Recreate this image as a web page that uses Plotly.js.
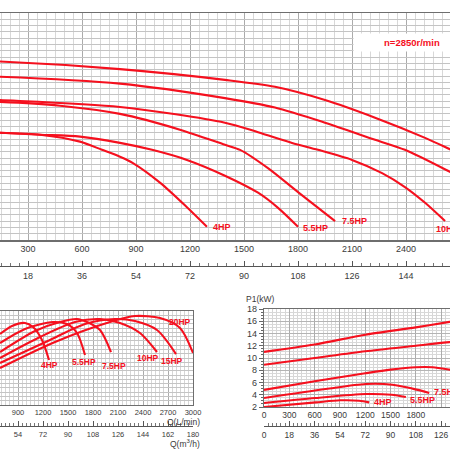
<!DOCTYPE html>
<html><head><meta charset="utf-8">
<script src="https://cdn.plot.ly/plotly-3.0.1.min.js"></script>
<style>html,body{margin:0;padding:0;background:#fff}#chart{width:450px;height:450px}</style>
</head><body><div id="chart"></div>
<script>
// ---------- DATA ----------
const hpNames = ['4HP','5.5HP','7.5HP','10HP','15HP','20HP'];
const speedLabel = 'n=2850r/min';

// Head curves  (Q in L/min, H in m)
const headQ_4HP  = [0,144,367,589,711,811,883,1033,1183,1294];
const headH_4HP  = [17.1,17.0,16.7,15.6,14.3,13.2,12.2,9.1,5.2,2.1];
const headQ_55HP = [0,144,367,589,811,989,1183,1394,1578,1689,1800];
const headH_55HP = [17.1,17.0,16.7,16.4,15.4,14.3,12.7,10.2,7.5,5.1,2.1];
const headQ_75HP = [0,144,478,811,1144,1394,1478,1633,1800,2006];
const headH_75HP = [22.0,21.9,21.3,20.0,17.5,15.1,14.3,11.4,7.6,3.0];
const headQ_10HP = [0,144,811,1394,1578,1767,1911,2100,2267,2394,2506,2617];
const headH_10HP = [22.4,22.2,21.1,18.6,17.1,15.4,14.3,12.7,10.6,8.4,5.9,3.0];
const headQ_15HP = [0,144,811,1394,1672,1950,2228,2394,2644,2750];
const headH_15HP = [26.0,25.9,24.8,22.5,21.0,18.6,15.9,14.3,10.8,9.2];
const headQ_20HP = [0,144,811,1394,1672,1950,2228,2506,2644,2750];
const headH_20HP = [28.4,28.3,27.1,25.4,24.3,22.2,19.4,16.2,14.4,13.0];

// Efficiency curves (Q in L/min, eff in %)
const effQ_4HP  = [684,828,984,1080,1188,1272];
const effE_4HP  = [66.5,74.0,76.8,73.0,60.9,42.1];
const effQ_55HP = [684,984,1320,1488,1608,1704];
const effE_55HP = [58.0,71.2,77.7,75.8,67.4,46.8];
const effQ_75HP = [684,1104,1404,1608,1728,1884,2016];
const effE_75HP = [49.6,69.3,77.7,80.5,77.7,70.2,49.6];
const effQ_10HP = [684,1164,1584,1884,2124,2364,2568];
const effE_10HP = [44.0,63.7,77.7,80.5,76.8,67.4,49.6];
const effQ_15HP = [684,1284,1704,2064,2304,2568,2796];
const effE_15HP = [39.3,60.9,75.8,80.5,78.6,70.2,47.7];
const effQ_20HP = [684,1344,2004,2304,2604,2844,3000];
const effE_20HP = [34.6,59.0,77.7,83.3,81.4,72.1,48.7];

// Power curves (Q in L/min, P1 in kW)
const powQ_4HP  = [0,613,902,1128,1247];
const powP_4HP  = [2.0,2.76,3.09,3.03,2.76];
const powQ_55HP = [0,613,1207,1512,1682];
const powP_55HP = [2.65,3.47,4.12,4.0,3.63];
const powQ_75HP = [0,732,1207,1524,1761,1959];
const powP_75HP = [3.47,4.93,5.75,5.64,5.0,4.3];
const powQ_10HP = [0,600,1200,1500,1800,2000,2200,2400];
const powP_10HP = [4.8,6.2,7.5,8.1,8.5,8.5,8.1,7.6];
const powQ_15HP = [0,600,1200,1800,2200,2400];
const powP_15HP = [8.9,10.0,11.1,12.0,12.6,12.8];
const powQ_20HP = [0,600,1200,1800,2200,2400];
const powP_20HP = [11.0,12.2,13.8,15.0,15.9,16.3];

const LPM_TO_M3H = 0.06;
// ---------- STYLE ----------
const RED = '#f5101e';
const FONT = 'Liberation Sans, Arial, sans-serif';
const TICKC = '#3a3a3a';

function curve(q, v, xa, ya) {
  return {x:q, y:v, xaxis:xa, yaxis:ya, type:'scatter', mode:'lines',
          line:{color:RED, width:2.1, shape:'spline', smoothing:0.8},
          hoverinfo:'skip', showlegend:false};
}
const headSets = [[headQ_4HP,headH_4HP],[headQ_55HP,headH_55HP],[headQ_75HP,headH_75HP],[headQ_10HP,headH_10HP],[headQ_15HP,headH_15HP],[headQ_20HP,headH_20HP]];
const effSets  = [[effQ_4HP,effE_4HP],[effQ_55HP,effE_55HP],[effQ_75HP,effE_75HP],[effQ_10HP,effE_10HP],[effQ_15HP,effE_15HP],[effQ_20HP,effE_20HP]];
const powSets  = [[powQ_4HP,powP_4HP],[powQ_55HP,powP_55HP],[powQ_75HP,powP_75HP],[powQ_10HP,powP_10HP],[powQ_15HP,powP_15HP],[powQ_20HP,powP_20HP]];

const traces = [];
headSets.forEach(s => traces.push(curve(s[0], s[1], 'x', 'y')));
effSets.forEach(s => traces.push(curve(s[0], s[1], 'x3', 'y3')));
powSets.forEach(s => traces.push(curve(s[0], s[1], 'x5', 'y5')));
// empty traces so the m3/h axes are bound to their subplots
traces.push({x:[], y:[], xaxis:'x2', yaxis:'y', type:'scatter', showlegend:false});
traces.push({x:[], y:[], xaxis:'x4', yaxis:'y3', type:'scatter', showlegend:false});
traces.push({x:[], y:[], xaxis:'x6', yaxis:'y5', type:'scatter', showlegend:false});

const topQRange = [144.4, 2644.4];
const blQRange = [684, 3000];
const brQRange = [0, 2205];

const tf = (s) => ({family:FONT, size:s, color:TICKC});
const lab = (s) => ({family:FONT, size:s, color:RED, weight:'bold'});

function m3Axis(overlay, pos, qr, fontSize) {
  return {overlaying:overlay, anchor:'free', position:pos, side:'bottom',
    range:[qr[0]*LPM_TO_M3H, qr[1]*LPM_TO_M3H], tick0:0, dtick:18,
    ticks:'inside', ticklen:5, tickcolor:'#555', showline:true, linecolor:'#555', linewidth:1,
    showgrid:false, zeroline:false, tickfont:tf(fontSize), ticklabelstandoff:1,
    minor:{dtick:3, ticks:'inside', ticklen:3, tickcolor:'#777', showgrid:false}};
}

const layout = {
  width:450, height:450, margin:{l:0,r:0,t:0,b:0},
  paper_bgcolor:'#fff', plot_bgcolor:'#fff', showlegend:false,
  font:{family:FONT},
  xaxis:{domain:[0,1], anchor:'y', range:topQRange, tick0:0, dtick:300,
    showgrid:true, gridcolor:'#ababab', gridwidth:1,
    minor:{dtick:50, showgrid:true, gridcolor:'#d8d8d8', gridwidth:1},
    showline:true, linecolor:'#6e6e6e', linewidth:1.5, mirror:true, ticks:'',
    tickfont:tf(9), zeroline:false},
  yaxis:{domain:[1-240/450, 1-13/450], anchor:'x', range:[0,36], dtick:1,
    showgrid:true, gridcolor:'#c4c4c4', showticklabels:false, ticks:'', zeroline:false, showline:false},
  xaxis2: m3Axis('x', 1-266/450, topQRange, 9),

  xaxis3:{domain:[0,193/450], anchor:'y3', range:blQRange, tick0:0, dtick:300,
    showgrid:true, gridcolor:'#ababab', minor:{dtick:50, showgrid:true, gridcolor:'#d6d6d6'},
    showline:true, linecolor:'#6e6e6e', linewidth:1.2, mirror:true, ticks:'', tickfont:tf(7.5), zeroline:false},
  yaxis3:{domain:[1-405/450, 1-311/450], anchor:'x3', range:[0,88], dtick:4, side:'right',
    showgrid:true, gridcolor:'#c4c4c4', showticklabels:false, ticks:'', zeroline:false,
    showline:true, linecolor:'#6e6e6e', linewidth:1.2},
  xaxis4: m3Axis('x3', 1-426/450, blQRange, 7.5),

  xaxis5:{domain:[264/450,1], anchor:'y5', range:brQRange, tick0:0, dtick:300,
    showgrid:true, gridcolor:'#ababab', minor:{dtick:50, showgrid:true, gridcolor:'#d6d6d6'},
    showline:true, linecolor:'#6e6e6e', linewidth:1.2, mirror:true, ticks:'', tickfont:tf(8.5), zeroline:false},
  yaxis5:{domain:[1-407/450, 1-309/450], anchor:'x5', range:[2,18], tick0:0, dtick:2,
    showgrid:true, gridcolor:'#b4b4b4', minor:{dtick:0.5, showgrid:true, gridcolor:'#d8d8d8', ticks:'outside', ticklen:2, tickcolor:'#666'},
    ticks:'outside', ticklen:4, tickcolor:'#666', showline:true, linecolor:'#6e6e6e', linewidth:1.2,
    tickfont:tf(9), zeroline:false},
  xaxis6: m3Axis('x5', 1-426/450, brQRange, 8.5),
  annotations:[]
};

const A = layout.annotations;
// top panel labels (attached to curve ends)
const topLab = [[0,'left',4,0],[1,'left',3,-1],[2,'left',5,0],[3,'left',-11,-8]];
topLab.forEach(([i,xa,xs,ys]) => {
  const q = headSets[i][0], h = headSets[i][1];
  A.push({x:q[q.length-1], y:h[h.length-1], xref:'x', yref:'y', text:hpNames[i], showarrow:false,
          xanchor:xa, yanchor:'middle', xshift:xs, yshift:ys, font:lab(9)});
});
// efficiency panel labels
const effLab = [[0,0,-5,'center'],[1,-1,-7,'center'],[2,3,-14,'center'],[3,-9,-6,'center'],[4,-4,-7,'center'],[5,0,31,'right']];
effLab.forEach(([i,xs,ys,xa]) => {
  const q = effSets[i][0], e = effSets[i][1];
  A.push({x:q[q.length-1], y:e[e.length-1], xref:'x3', yref:'y3', text:hpNames[i], showarrow:false,
          xanchor:xa, yanchor:'middle', xshift:xs, yshift:ys, font:lab(8.5)});
});
// power panel labels
const powLab = [[0,3,0],[1,2,-3],[2,3,1]];
powLab.forEach(([i,xs,ys]) => {
  const q = powSets[i][0], p = powSets[i][1];
  A.push({x:q[q.length-1], y:p[p.length-1], xref:'x5', yref:'y5', text:hpNames[i], showarrow:false,
          xanchor:'left', yanchor:'middle', xshift:xs, yshift:ys, font:lab(9)});
});
// speed box
A.push({x:353/450, y:1-33/450, xref:'paper', yref:'paper', xanchor:'left', yanchor:'top',
        text:speedLabel, showarrow:false, bgcolor:'#ffffff', width:114, height:15, align:'center',
        font:lab(9.5)});
// axis titles
A.push({x:202/450, y:1-422/450, xref:'paper', yref:'paper', xanchor:'right', yanchor:'middle',
        text:'Q(L/min)', showarrow:false, font:tf(8.5)});
A.push({x:202/450, y:1-443/450, xref:'paper', yref:'paper', xanchor:'right', yanchor:'middle',
        text:'Q(m<sup>3</sup>/h)', showarrow:false, font:tf(8.5)});
A.push({x:260/450, y:1-299/450, xref:'paper', yref:'paper', xanchor:'center', yanchor:'middle',
        text:'P1(kW)', showarrow:false, font:tf(8.5)});

Plotly.newPlot('chart', traces, layout, {staticPlot:true, displayModeBar:false});
</script></body></html>
